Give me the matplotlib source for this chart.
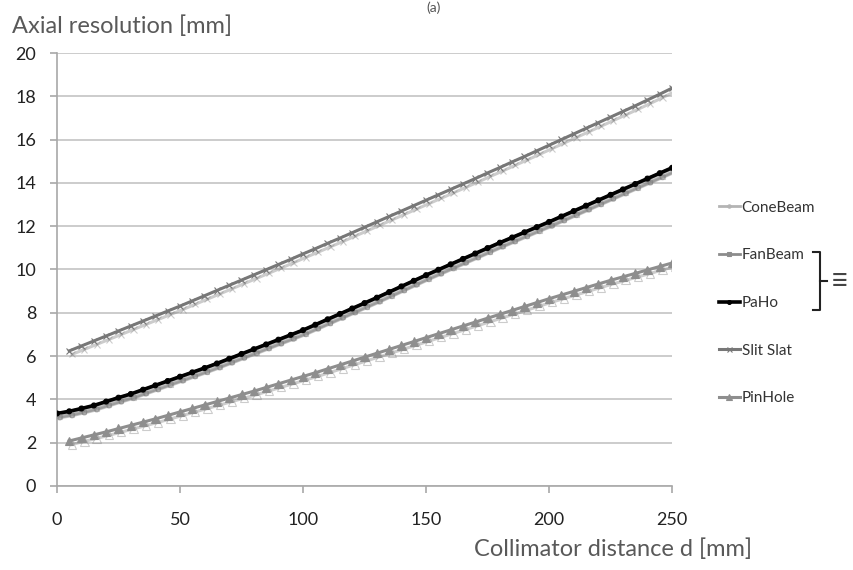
import matplotlib.pyplot as plt
import matplotlib.patheffects as pe
from matplotlib.lines import Line2D

# distances in mm (PaHo starts at 0, the others at 5)
d_paho = list(range(0, 251, 5))
d_other = list(range(5, 251, 5))

paho = [3.35, 3.45, 3.58, 3.72, 3.90, 4.08, 4.25, 4.45, 4.65, 4.85,
        5.05, 5.25, 5.45, 5.66, 5.88, 6.10, 6.32, 6.54, 6.76, 6.98,
        7.20, 7.45, 7.70, 7.95, 8.20, 8.45, 8.70, 8.96, 9.22, 9.48,
        9.74, 9.99, 10.24, 10.49, 10.74, 10.99, 11.24, 11.48, 11.72, 11.96,
        12.20, 12.45, 12.70, 12.95, 13.20, 13.45, 13.70, 13.95, 14.20, 14.45,
        14.70]
# FanBeam and ConeBeam sit under the PaHo curve
fanbeam = [3.35, 3.45, 3.58, 3.72, 3.90, 4.08, 4.25, 4.45, 4.65, 4.85,
           5.05, 5.25, 5.45, 5.66, 5.88, 6.10, 6.32, 6.54, 6.76, 6.98,
           7.20, 7.45, 7.70, 7.95, 8.20, 8.45, 8.70, 8.96, 9.22, 9.48,
           9.74, 9.99, 10.24, 10.49, 10.74, 10.99, 11.24, 11.48, 11.72, 11.96,
           12.20, 12.45, 12.70, 12.95, 13.20, 13.45, 13.70, 13.95, 14.20, 14.45,
           14.70]
conebeam = [3.30, 3.40, 3.53, 3.67, 3.85, 4.03, 4.20, 4.40, 4.60, 4.80,
            5.00, 5.20, 5.40, 5.61, 5.83, 6.05, 6.27, 6.49, 6.71, 6.93,
            7.15, 7.40, 7.65, 7.90, 8.15, 8.40, 8.65, 8.91, 9.17, 9.43,
            9.69, 9.94, 10.19, 10.44, 10.69, 10.94, 11.19, 11.43, 11.67, 11.91,
            12.15, 12.40, 12.65, 12.90, 13.15, 13.40, 13.65, 13.90, 14.15, 14.40,
            14.65]
slitslat = [6.24, 6.47, 6.70, 6.93, 7.16, 7.39, 7.62, 7.85, 8.08, 8.31,
            8.55, 8.79, 9.03, 9.27, 9.51, 9.75, 9.99, 10.23, 10.47, 10.72,
            10.96, 11.21, 11.45, 11.70, 11.95, 12.20, 12.45, 12.70, 12.95, 13.20,
            13.45, 13.70, 13.95, 14.20, 14.46, 14.71, 14.97, 15.22, 15.48, 15.74,
            16.00, 16.26, 16.52, 16.78, 17.04, 17.30, 17.56, 17.83, 18.10, 18.38]
pinhole = [2.08, 2.22, 2.36, 2.50, 2.65, 2.80, 2.95, 3.10, 3.26, 3.42,
           3.58, 3.74, 3.90, 4.06, 4.22, 4.38, 4.55, 4.72, 4.89, 5.06,
           5.23, 5.41, 5.59, 5.77, 5.95, 6.13, 6.31, 6.49, 6.67, 6.85,
           7.03, 7.21, 7.39, 7.57, 7.75, 7.93, 8.11, 8.29, 8.47, 8.65,
           8.82, 8.99, 9.16, 9.33, 9.50, 9.66, 9.82, 9.98, 10.14, 10.30]

xticks = [0, 50, 100, 150, 200, 250]
yticks = list(range(0, 21, 2))

plt.rcParams['font.family'] = ['Lato', 'DejaVu Sans']

fig = plt.figure(figsize=(8.54, 5.70), dpi=100)
ax = fig.add_axes([0.0667, 0.1474, 0.7203, 0.7596])

shadow = [pe.SimpleLineShadow(offset=(2, -2.5), shadow_color='#808080', alpha=0.4),
          pe.Normal()]

styles = [
    ('ConeBeam', d_paho, conebeam, '#b4b4b4', 2.0, 'o', 3),
    ('FanBeam', d_paho, fanbeam, '#8c8c8c', 2.0, 's', 3),
    ('PaHo', d_paho, paho, 'black', 2.6, 'o', 3.5),
    ('Slit Slat', d_other, slitslat, '#777777', 2.2, 'x', 4.5),
    ('PinHole', d_other, pinhole, '#8e8e8e', 2.2, '^', 6),
]

handles = []
for i, (name, xs, ys, col, lw, mk, ms) in enumerate(styles):
    ax.plot(xs, ys, color=col, lw=lw, marker=mk, ms=ms, mew=0.8,
            path_effects=shadow, zorder=3 + (i >= 2))
    handles.append(Line2D([], [], color=col, lw=lw, marker=mk, ms=ms * 0.8,
                          mew=0.8, label=name))

ax.set_xlim(0, 250)
ax.set_ylim(0, 20)
ax.set_xticks(xticks)
ax.set_yticks(yticks)
ax.grid(axis='y', color='#c4c4c4', lw=1.2)
ax.set_axisbelow(True)
for s in ['top', 'right']:
    ax.spines[s].set_visible(False)
for s in ['left', 'bottom']:
    ax.spines[s].set_color('#a8a8a8')
    ax.spines[s].set_linewidth(1.2)
ax.tick_params(axis='both', colors='#a8a8a8', labelcolor='#222222',
               labelsize=13, length=5, width=1.2)
ax.tick_params(axis='x', pad=14)
ax.tick_params(axis='y', pad=10)

fig.text(12 / 854, 1 - 33 / 570, 'Axial resolution [mm]', fontsize=17,
         color='#595959', ha='left', va='baseline')
fig.text(752 / 854, 1 - 556 / 570, 'Collimator distance d [mm]', fontsize=17,
         color='#595959', ha='right', va='baseline')
fig.text(0.508, 0.998, '(a)', fontsize=10, color='#555555', ha='center', va='top')

fig.legend(handles=handles, loc='center left',
           bbox_to_anchor=(705 / 854, 1 - 303 / 570),
           frameon=False, fontsize=11, labelspacing=2.2, handlelength=1.4,
           handletextpad=0.1, labelcolor='#333333')

# bracket grouping FanBeam and PaHo
bx = 820 / 854
ytop = 1 - 252 / 570
ybot = 1 - 310 / 570
fig.add_artist(Line2D([bx - 0.008, bx, bx, bx - 0.008],
                      [ytop, ytop, ybot, ybot], color='#222222', lw=1.5))
fig.add_artist(Line2D([bx, bx + 0.008], [(ytop + ybot) / 2] * 2,
                      color='#222222', lw=1.5))
fig.text(840 / 854, (ytop + ybot) / 2, '\u2261', fontsize=22, color='#444444',
         ha='center', va='center')

fig.savefig('out.png', dpi=100)
